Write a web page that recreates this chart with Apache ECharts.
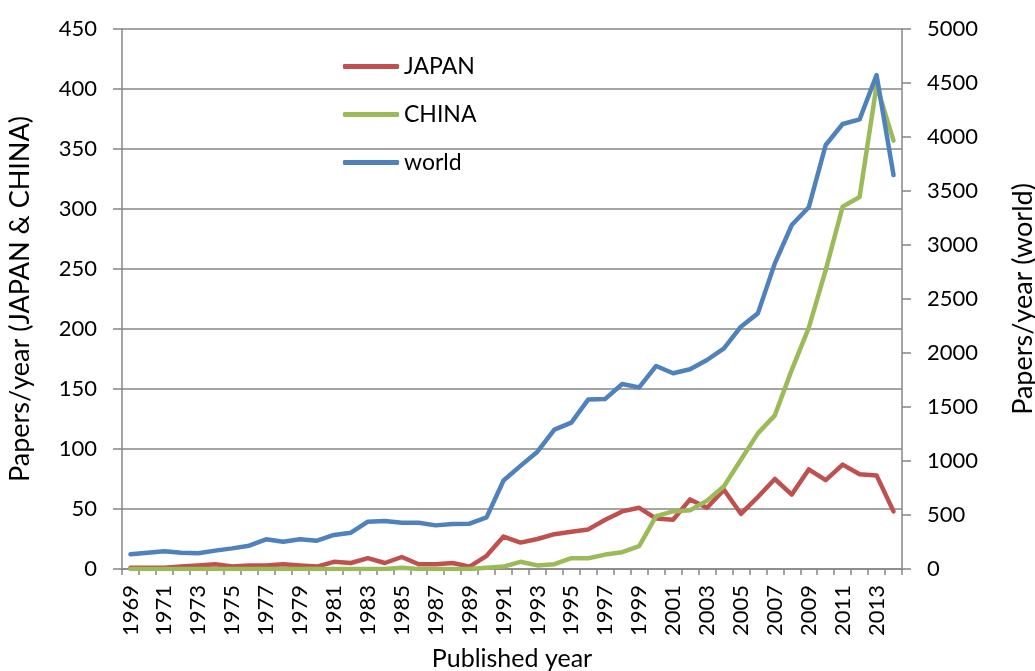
<!DOCTYPE html>
<html>
<head>
<meta charset="utf-8">
<script src="https://cdn.jsdelivr.net/npm/echarts@6/dist/echarts.min.js"></script>
<style>
html,body{margin:0;padding:0;background:#fff;}
#main{width:1035px;height:671px;}
</style>
</head>
<body>
<div id="main"></div>
<script>
var years = [];
for (var y = 1969; y <= 2014; y++) years.push(String(y));

var japan = [1,1,1,2,3,4,2,3,3,4,3,2,6,5,9,5,10,4,4,5,2,11,27,22,25,29,31,33,41,48,51,42,41,58,51,66,46,60,75,62,83,74,87,79,78,48];
var china = [0,0,0,0,0,0,0,0,0,0,0,0,0,0,0,0,1,0,0,0,0,1,2,6,3,4,9,9,12,14,19,44,48,49,57,69,91,113,128,166,201,249,302,310,403,357];
var world = [136,151,164,151,145,170,191,216,275,253,275,262,315,336,438,444,429,429,404,417,420,478,820,955,1086,1290,1355,1570,1575,1713,1682,1880,1812,1849,1935,2043,2244,2367,2830,3185,3349,3926,4120,4163,4574,3648];

var font = 'Lato, "Open Sans", sans-serif';
var gray = '#878787';

var myChart = echarts.init(document.getElementById('main'));
var option = {
    animation: false,
    textStyle: {fontFamily: font},
    grid: {left: 122, right: 133, top: 29, bottom: 102, containLabel: false, outerBoundsMode: 'none'},
    legend: {
        orient: 'vertical',
        left: 338,
        top: 50,
        itemWidth: 56,
        itemHeight: 5,
        itemGap: 25,
        icon: 'roundRect',
        textStyle: {fontSize: 23, color: '#000', fontFamily: font},
        data: ['JAPAN', 'CHINA', 'world']
    },
    xAxis: {
        type: 'category',
        data: years,
        boundaryGap: true,
        name: 'Published year',
        nameLocation: 'middle',
        nameGap: 77,
        nameTextStyle: {fontSize: 25, color: '#000'},
        axisLine: {lineStyle: {color: gray, width: 1.5}},
        axisTick: {show: true, length: 6, interval: 0, lineStyle: {color: gray, width: 1.5}},
        axisLabel: {interval: 1, rotate: 90, fontSize: 22, color: '#000', margin: 16}
    },
    yAxis: [
        {
            type: 'value',
            min: 0, max: 450, interval: 50,
            name: 'Papers/year (JAPAN & CHINA)',
            nameLocation: 'middle',
            nameRotate: 90,
            nameGap: 88,
            nameTextStyle: {fontSize: 27, color: '#000'},
            axisLine: {show: true, lineStyle: {color: gray, width: 1.5}},
            axisTick: {show: true, length: 9, lineStyle: {color: gray, width: 1.5}},
            axisLabel: {fontSize: 22, color: '#000', margin: 25},
            splitLine: {lineStyle: {color: gray, width: 1.5}}
        },
        {
            type: 'value',
            min: 0, max: 5000, interval: 500,
            position: 'right',
            name: 'Papers/year (world)',
            nameLocation: 'middle',
            nameRotate: 90,
            nameGap: 108,
            nameTextStyle: {fontSize: 27, color: '#000'},
            axisLine: {show: true, lineStyle: {color: gray, width: 1.5}},
            axisTick: {show: true, length: 9, lineStyle: {color: gray, width: 1.5}},
            axisLabel: {fontSize: 22, color: '#000', margin: 25, formatter: function (v) { return String(v); }},
            splitLine: {show: false}
        }
    ],
    series: [
        {name: 'JAPAN', type: 'line', data: japan, yAxisIndex: 0, showSymbol: false, symbol: 'none',
         itemStyle: {color: '#C0504D'}, lineStyle: {color: '#C0504D', width: 4.5, cap: 'round', join: 'round'}},
        {name: 'CHINA', type: 'line', data: china, yAxisIndex: 0, showSymbol: false, symbol: 'none',
         itemStyle: {color: '#9BBB59'}, lineStyle: {color: '#9BBB59', width: 4.5, cap: 'round', join: 'round'}},
        {name: 'world', type: 'line', data: world, yAxisIndex: 1, showSymbol: false, symbol: 'none',
         itemStyle: {color: '#4F81BD'}, lineStyle: {color: '#4F81BD', width: 4.5, cap: 'round', join: 'round'}}
    ]
};
myChart.setOption(option);
</script>
</body>
</html>
